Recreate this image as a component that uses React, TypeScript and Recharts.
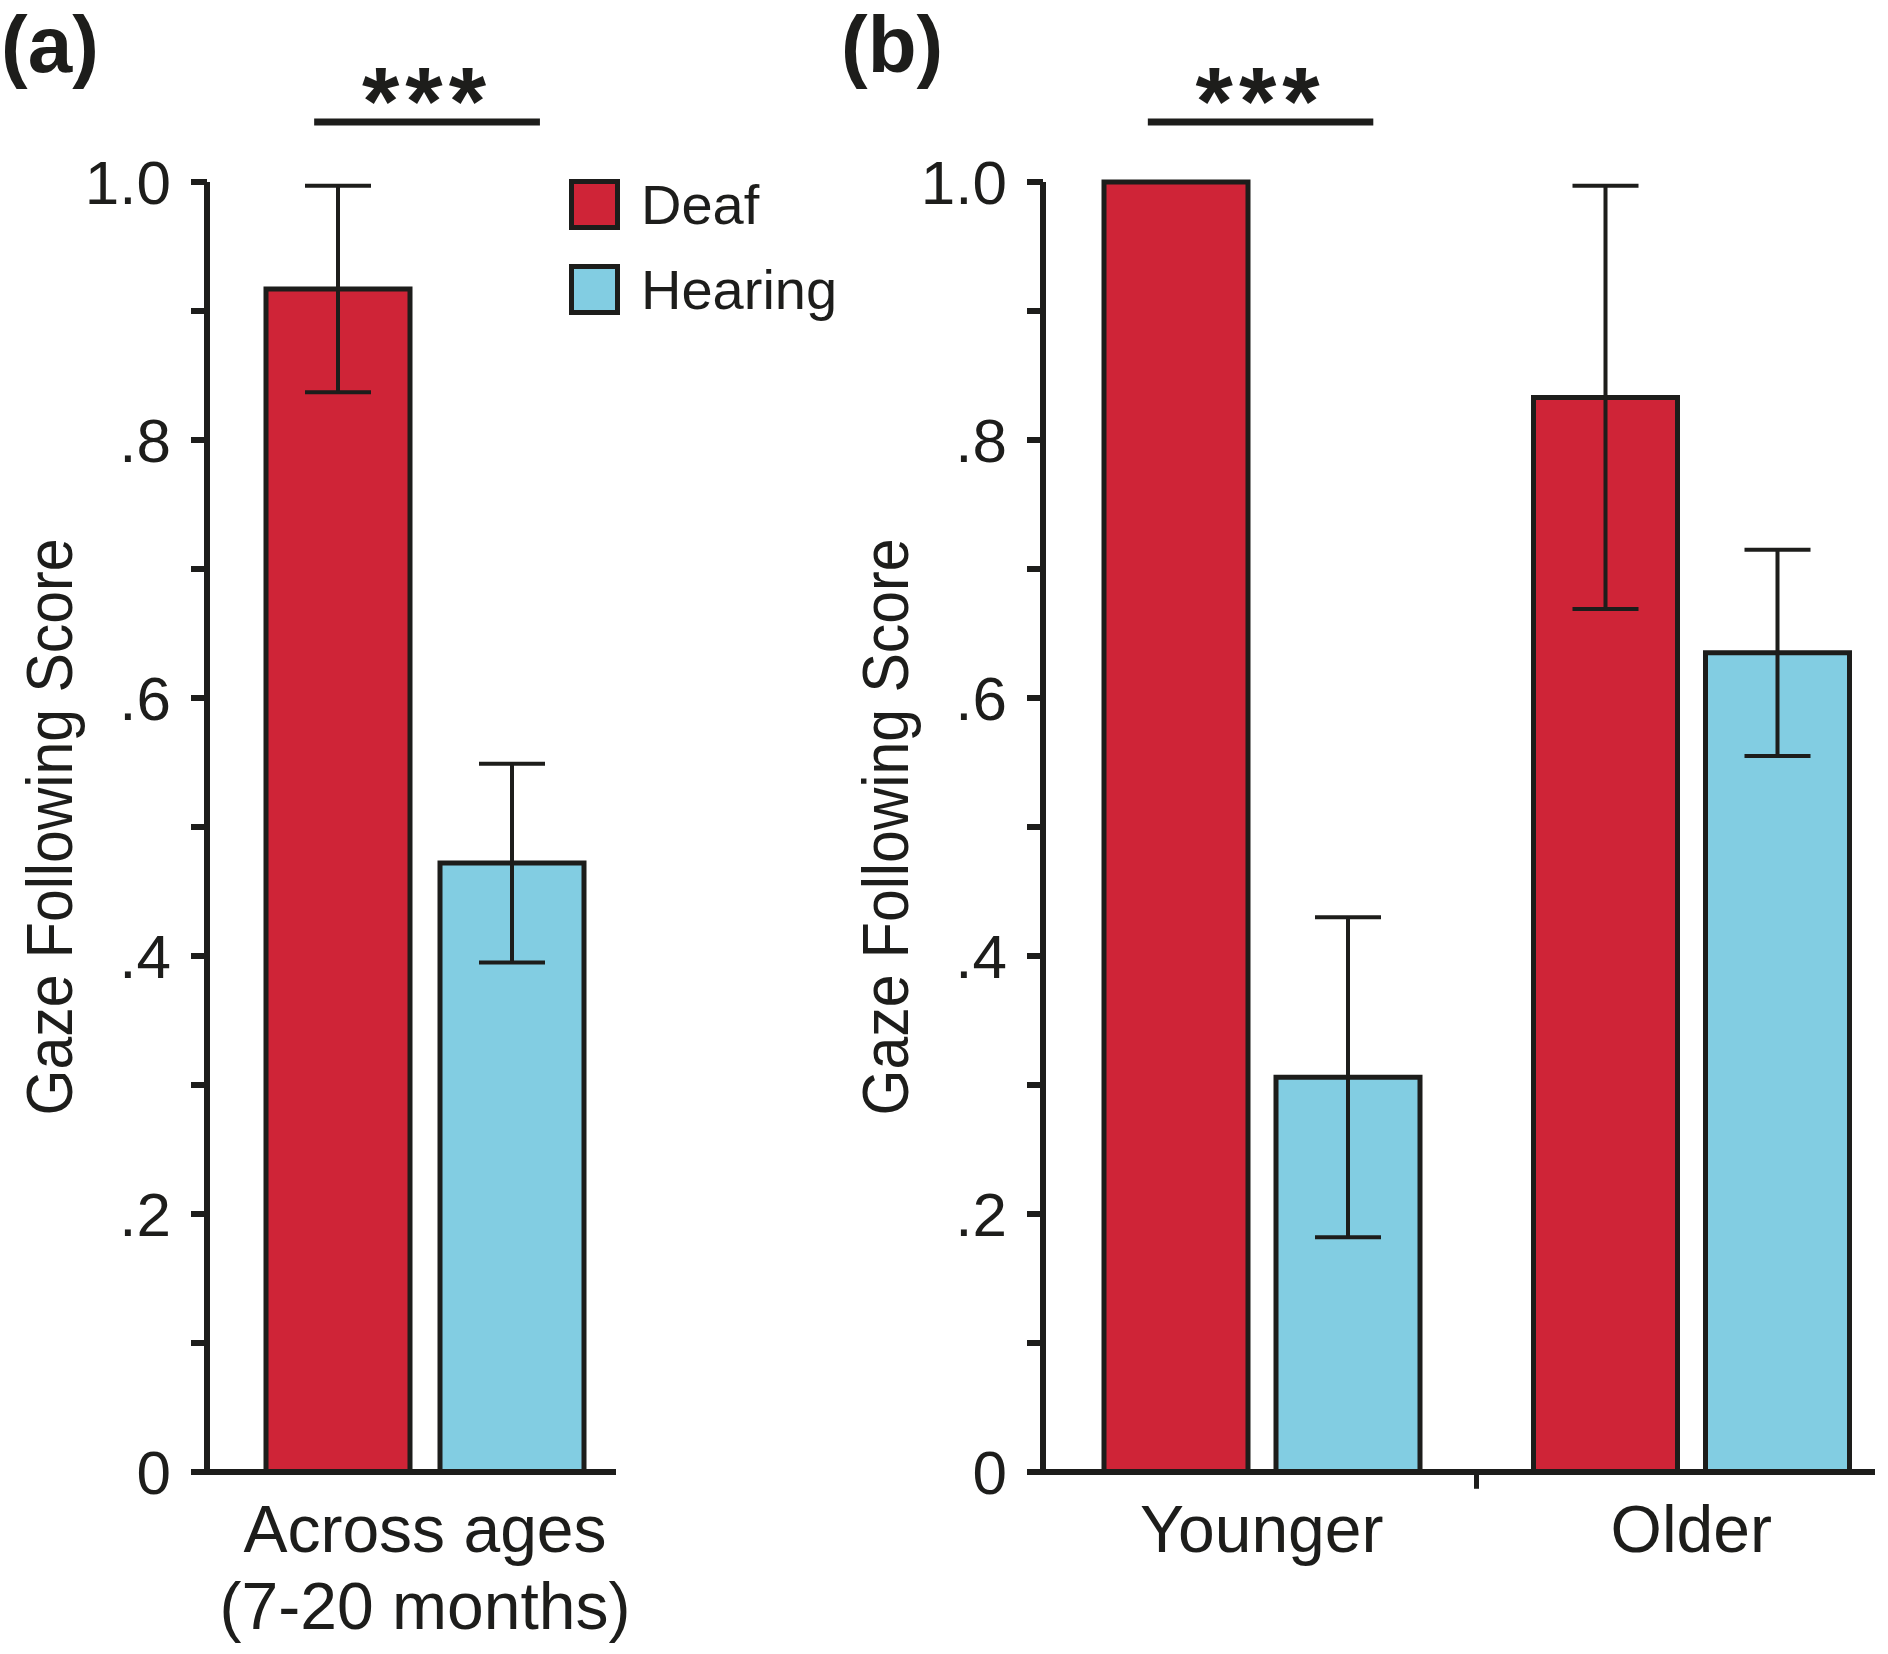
import React from "react";
import { BarChart, Bar, XAxis, YAxis, ErrorBar, Legend, ReferenceLine } from "recharts";

const FONT = '"Liberation Sans", Arial, Helvetica, sans-serif';
const INK = "#1d1d1b";
const RED = "#cf2437";
const BLUE = "#82cde2";

// panel (a): all ages pooled
const acrossCategories = ["Across ages\n(7-20 months)"];
const acrossDeaf = [0.917];
const acrossDeafErr = [0.08];
const acrossHearing = [0.472];
const acrossHearingErr = [0.077];

// panel (b): split by age group
const ageCategories = ["Younger", "Older"];
const ageDeaf = [1.0, 0.833];
const ageDeafErr = [0, 0.164];
const ageHearing = [0.306, 0.635];
const ageHearingErr = [0.124, 0.08];

const yTicks = [0, 0.1, 0.2, 0.3, 0.4, 0.5, 0.6, 0.7, 0.8, 0.9, 1.0];
const yTickLabels = ["0", "", ".2", "", ".4", "", ".6", "", ".8", "", "1.0"];

// significance bracket: height in score units, span as fraction of the plot width
const sigLevel = 1.0465;
const sigSpanA = [0.262, 0.814];
const sigSpanB = [0.126, 0.397];
const sigText = "***";

const build = (cats: string[], deaf: number[], deafErr: number[], hearing: number[], hearingErr: number[]) =>
  cats.map((cat, i) => ({ cat, deaf: deaf[i], deafErr: deafErr[i], hearing: hearing[i], hearingErr: hearingErr[i] }));

const dataA = build(acrossCategories, acrossDeaf, acrossDeafErr, acrossHearing, acrossHearingErr);
const dataB = build(ageCategories, ageDeaf, ageDeafErr, ageHearing, ageHearingErr);

function CategoryTick(props: any) {
  const { x, y, payload } = props;
  const lines = String(payload.value).split("\n");
  return (
    <text x={x} y={y} textAnchor="middle" fontSize={66} fontFamily={FONT} fill={INK}>
      {lines.map((line, i) => (
        <tspan key={i} x={x} dy={i === 0 ? 80 : 77}>
          {line}
        </tspan>
      ))}
    </text>
  );
}

function AxisTitle(props: any) {
  const vb = props.viewBox;
  const cx = vb.x + vb.width - 135;
  const cy = vb.y + vb.height / 2;
  return (
    <text
      x={cx}
      y={cy}
      transform={`rotate(-90 ${cx} ${cy})`}
      textAnchor="middle"
      fontSize={64}
      fontFamily={FONT}
      fill={INK}
      textLength={577}
      lengthAdjust="spacingAndGlyphs"
    >
      Gaze Following Score
    </text>
  );
}

// horizontal reference line at sigLevel, trimmed to a part of the plot width, with stars on top
const bracketShape = (span: number[]) => (p: any) => {
  const w = p.x2 - p.x1;
  const a = p.x1 + span[0] * w;
  const b = p.x1 + span[1] * w;
  return (
    <g>
      <line x1={a} y1={p.y1} x2={b} y2={p.y1} stroke={INK} strokeWidth={7} />
      <text
        x={(a + b) / 2}
        y={p.y1 + 12}
        textAnchor="middle"
        fontSize={96}
        fontWeight="bold"
        fontFamily={FONT}
        fill={INK}
        letterSpacing={6}
      >
        {sigText}
      </text>
    </g>
  );
};

function SwatchLegend(props: any) {
  const items = props.payload || [];
  return (
    <div style={{ display: "flex", flexDirection: "column", gap: 34 }}>
      {items.map((e: any) => (
        <div key={e.value} style={{ display: "flex", alignItems: "center", height: 51 }}>
          <span
            style={{
              width: 41,
              height: 41,
              border: `5px solid ${INK}`,
              background: e.color ?? e.payload?.fill,
              display: "inline-block",
            }}
          />
          <span style={{ marginLeft: 21, fontSize: 56, lineHeight: 1, fontFamily: FONT, color: INK }}>{e.value}</span>
        </div>
      ))}
    </div>
  );
}

const axisStroke = { stroke: INK, strokeWidth: 6 };

function Panel({
  data,
  width,
  yAxisWidth,
  marginRight,
  padding,
  barGap,
  sigSpan,
  legend,
  divider,
}: {
  data: any[];
  width: number;
  yAxisWidth: number;
  marginRight: number;
  padding: { left: number; right: number };
  barGap: number;
  sigSpan: number[];
  legend?: boolean;
  divider?: string;
}) {
  return (
    <BarChart
      width={width}
      height={1654}
      data={data}
      margin={{ top: 182, right: marginRight, bottom: 12, left: 0 }}
      barGap={barGap}
    >
      <XAxis
        dataKey="cat"
        type="category"
        height={170}
        padding={padding}
        axisLine={axisStroke}
        tickLine={false}
        tickSize={0}
        tickMargin={0}
        interval={0}
        tick={<CategoryTick />}
      />
      <YAxis
        domain={[0, 1]}
        ticks={yTicks}
        interval={0}
        width={yAxisWidth}
        axisLine={axisStroke}
        tickLine={axisStroke}
        tickSize={16}
        tickMargin={20}
        tickFormatter={(v: number, i: number) => yTickLabels[i] ?? ""}
        tick={{ fontSize: 62, fill: INK, fontFamily: FONT }}
        label={{ content: AxisTitle }}
      />
      {legend && (
        <Legend
          layout="vertical"
          align="center"
          verticalAlign="middle"
          content={<SwatchLegend />}
          wrapperStyle={{ left: 569, top: 179, width: "auto", height: "auto" }}
        />
      )}
      <Bar dataKey="deaf" name="Deaf" fill={RED} stroke={INK} strokeWidth={5} barSize={144} isAnimationActive={false}>
        <ErrorBar dataKey="deafErr" width={33} stroke={INK} strokeWidth={4} isAnimationActive={false} />
      </Bar>
      <Bar dataKey="hearing" name="Hearing" fill={BLUE} stroke={INK} strokeWidth={5} barSize={144} isAnimationActive={false}>
        <ErrorBar dataKey="hearingErr" width={33} stroke={INK} strokeWidth={4} isAnimationActive={false} />
      </Bar>
      {divider && (
        <ReferenceLine
          segment={[
            { x: divider, y: 0 },
            { x: divider, y: -0.013 },
          ]}
          position="start"
          ifOverflow="visible"
          stroke={INK}
          strokeWidth={5}
        />
      )}
      <ReferenceLine y={sigLevel} ifOverflow="visible" stroke={INK} shape={bracketShape(sigSpan)} />
    </BarChart>
  );
}

const panelLabel = (left: number): React.CSSProperties => ({
  position: "absolute",
  left,
  top: 5,
  fontSize: 80,
  fontWeight: "bold",
  lineHeight: 1,
  fontFamily: FONT,
  color: INK,
});

export default function App() {
  return (
    <div
      style={{
        position: "absolute",
        left: 0,
        top: 0,
        width: 1888,
        height: 1654,
        overflow: "hidden",
        background: "#ffffff",
        fontFamily: FONT,
      }}
    >
      <div style={{ position: "absolute", left: 0, top: 0 }}>
        <Panel
          data={dataA}
          width={850}
          yAxisWidth={207}
          marginRight={234}
          padding={{ left: 27, right: 0 }}
          barGap={30}
          sigSpan={sigSpanA}
          legend
        />
      </div>
      <div style={{ position: "absolute", left: 850, top: 0 }}>
        <Panel
          data={dataB}
          width={1038}
          yAxisWidth={193}
          marginRight={13}
          padding={{ left: 4, right: -31 }}
          barGap={28}
          sigSpan={sigSpanB}
          divider="Older"
        />
      </div>
      <div style={panelLabel(1)}>(a)</div>
      <div style={panelLabel(841)}>(b)</div>
    </div>
  );
}
